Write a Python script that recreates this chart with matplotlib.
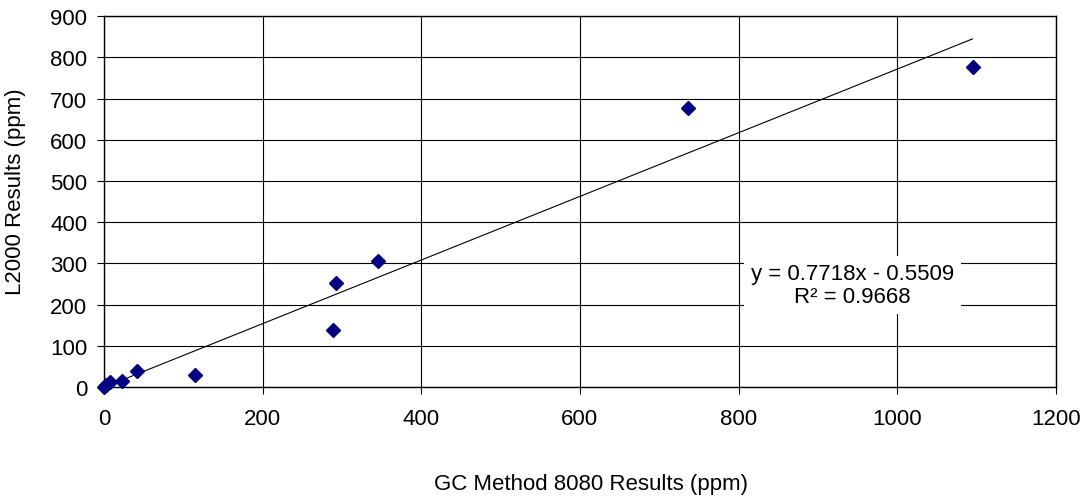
import matplotlib
matplotlib.use("Agg")
import matplotlib.pyplot as plt
import numpy as np

plt.rcParams['font.family'] = ['Liberation Sans', 'DejaVu Sans']

# GC method vs L2000 results (ppm)
gc_ppm = [0.5, 3, 8, 23, 42, 115, 289, 292, 345, 736, 1095]
l2000_ppm = [0, 4, 12, 15, 39, 29, 138, 252, 306, 677, 776]

slope = 0.7718
intercept = -0.5509
r_squared = 0.9668

x_ticks = [0, 200, 400, 600, 800, 1000, 1200]
y_ticks = [0, 100, 200, 300, 400, 500, 600, 700, 800, 900]

fs = 16

fig = plt.figure(figsize=(10.89, 5.02), dpi=100)
ax = fig.add_axes([0.0955, 0.227, 0.874, 0.739])

ax.set_xlim(0, 1200)
ax.set_ylim(0, 900)
ax.set_xticks(x_ticks)
ax.set_yticks(y_ticks)
ax.grid(True, color='black', linewidth=0.8)
ax.set_axisbelow(True)

xs = np.array([0, max(gc_ppm)])
ax.plot(xs, slope * xs + intercept, color='black', linewidth=0.8, zorder=3)
ax.plot(gc_ppm, l2000_ppm, linestyle='none', marker='D', markersize=7,
        color='#000080', zorder=4, clip_on=False)

ax.text(944, 247, "y = %.4fx - %.4f\nR\u00b2 = %.4f" % (slope, -intercept, r_squared),
        ha='center', va='center', fontsize=fs, linespacing=1.15, zorder=5,
        bbox=dict(facecolor='white', edgecolor='none', pad=5))

for s in ax.spines.values():
    s.set_color('black')
    s.set_linewidth(1)
ax.tick_params(direction='out', length=5, width=0.8, labelsize=fs, colors='black')
ax.tick_params(axis='x', pad=10)
ax.tick_params(axis='y', pad=7)

fig.text(16 / 1089, 1 - 192 / 502, "L2000 Results (ppm)", rotation=90,
         ha='center', va='center', fontsize=fs)
fig.text(591 / 1089, 1 - 485 / 502, "GC Method 8080 Results (ppm)",
         ha='center', va='center', fontsize=fs)

fig.savefig("out.png", dpi=100)
